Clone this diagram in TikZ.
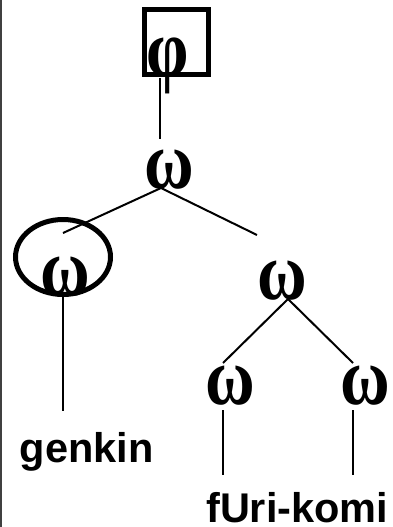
\documentclass[tikz,border=0pt]{standalone}
\usepackage{fontspec}
\setmainfont{Liberation Serif}
\newfontfamily\lsans{Liberation Sans}
\usetikzlibrary{shapes.geometric}
\newcommand{\tallg}[1]{\scalebox{0.97}[1.17]{#1}}
\begin{document}
\begin{tikzpicture}[x=1pt,y=-1pt,
  greek/.style={inner sep=0pt, anchor=base, font=\bfseries\fontsize{70}{70}\selectfont},
  lab/.style={inner sep=0pt, anchor=base west, font=\lsans\bfseries\fontsize{41.5}{41.5}\selectfont},
  edge/.style={line width=2pt},
  heavy/.style={draw, line width=5pt, inner sep=0pt}
]
\useasboundingbox (0,0) rectangle (393,527);
\draw[line width=2pt, black!75] (1,0) -- (1,527);
% nodes
\node[greek] (phi) at (167.5,76) {\tallg{φ}};
\node[heavy, minimum size=64pt] (phibox) at (176.5,42) {};
\node[greek] (w1) at (169.5,188) {\tallg{ω}};
\node[greek] (w2) at (65.5,295) {\tallg{ω}};
\node[heavy, ellipse, minimum width=95pt, minimum height=75pt] (circ) at (63,257) {};
\node[greek] (w3) at (282.5,299) {\tallg{ω}};
\node[greek] (w4) at (230,404) {\tallg{ω}};
\node[greek] (w5) at (365.5,404) {\tallg{ω}};
\node[lab] (genkin) at (19.5,462) {genkin};
\node[lab] (furi) at (206,522) {fUri-komi};
% connector ends
\coordinate (phiB) at (160,78);
\coordinate (w1T) at (160,139);
\coordinate (w1B) at (161,188);
\coordinate (w2T) at (63,233);
\coordinate (w3T) at (257,235);
\coordinate (w2B) at (63,295);
\coordinate (genT) at (63,411);
\coordinate (w3B) at (288,299);
\coordinate (w4T) at (223,363);
\coordinate (w5T) at (353,363);
\coordinate (w4B) at (223,410);
\coordinate (w5B) at (353,410);
\coordinate (fur1) at (223,475);
\coordinate (fur2) at (353,475);
% connectors
\draw[edge] (phiB) -- (w1T);
\draw[edge] (w1B) -- (w2T);
\draw[edge] (w1B) -- (w3T);
\draw[edge] (w2B) -- (genT);
\draw[edge] (w3B) -- (w4T);
\draw[edge] (w3B) -- (w5T);
\draw[edge] (w4B) -- (fur1);
\draw[edge] (w5B) -- (fur2);
\end{tikzpicture}
\end{document}
